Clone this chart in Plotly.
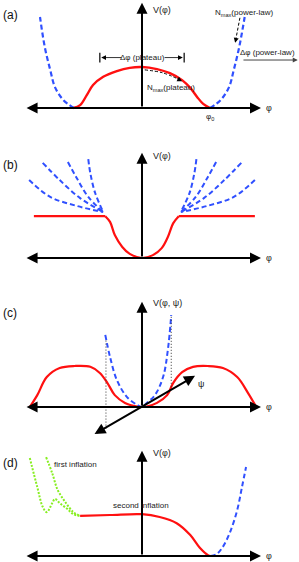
import plotly.graph_objects as go

# ---------------- data (phi, V) ----------------
# panel (a)
a_red_phi = [-1.01, -0.91, -0.81, -0.72, -0.57, -0.37, -0.18, 0.0, 0.22, 0.41, 0.59, 0.71, 0.81, 0.90, 1.0]
a_red_V = [0.0, 0.07, 0.32, 0.56, 0.76, 0.90, 0.98, 1.0, 0.95, 0.85, 0.68, 0.49, 0.27, 0.10, 0.0]
a_blueL_phi = [-1.0, -1.16, -1.28, -1.35, -1.43, -1.50]
a_blueL_V = [0.0, 0.20, 0.51, 0.93, 1.49, 2.22]
a_blueR_phi = [1.0, 1.16, 1.28, 1.35, 1.43, 1.51]
a_blueR_V = [0.0, 0.20, 0.51, 0.93, 1.49, 2.22]

# panel (b)
b_flatL_phi = [-1.59, -0.54]
b_flatL_V = [1.02, 1.02]
b_bowl_phi = [-0.54, -0.47, -0.40, -0.29, -0.18, 0.0, 0.16, 0.29, 0.38, 0.46, 0.54]
b_bowl_V = [1.02, 0.88, 0.56, 0.27, 0.10, 0.0, 0.07, 0.24, 0.51, 0.85, 1.02]
b_flatR_phi = [0.54, 1.66]
b_flatR_V = [1.02, 1.02]
b_fan_phi = [
    [-1.66, -1.35, -0.96, -0.57],
    [-1.46, -1.21, -0.91, -0.57],
    [-1.09, -0.96, -0.79, -0.57],
    [-0.79, -0.76, -0.69, -0.57],
    [1.66, 1.35, 0.96, 0.57],
    [1.46, 1.21, 0.91, 0.57],
    [1.09, 0.96, 0.79, 0.57],
    [0.80, 0.77, 0.70, 0.57],
]
b_fan_V = [
    [1.90, 1.49, 1.27, 1.12],
    [2.32, 1.90, 1.46, 1.12],
    [2.34, 1.95, 1.49, 1.12],
    [2.41, 2.07, 1.59, 1.12],
    [1.90, 1.49, 1.27, 1.12],
    [2.32, 1.90, 1.46, 1.12],
    [2.34, 1.95, 1.49, 1.12],
    [2.41, 2.07, 1.59, 1.12],
]

# panel (c)
c_red_phi = [-1.65, -1.54, -1.40, -1.21, -0.99, -0.76, -0.62, -0.51, -0.40, -0.25, -0.07, 0.0,
             0.07, 0.22, 0.37, 0.46, 0.59, 0.75, 0.97, 1.19, 1.40, 1.56, 1.68]
c_red_V = [0.0, 0.29, 0.73, 0.95, 1.0, 0.98, 0.83, 0.59, 0.29, 0.10, 0.01, 0.0,
           0.01, 0.10, 0.29, 0.59, 0.85, 0.98, 1.0, 0.95, 0.73, 0.34, 0.0]
c_blue_phi = [-0.54, -0.47, -0.37, -0.22, -0.07, 0.0, 0.07, 0.19, 0.31, 0.38, 0.43]
c_blue_V = [1.76, 1.22, 0.66, 0.24, 0.05, 0.0, 0.10, 0.29, 0.73, 1.39, 2.24]
c_dotL_phi = [-0.53, -0.53]
c_dotL_V = [1.62, -0.56]
c_dotR_phi = [0.43, 0.43]
c_dotR_V = [2.20, 0.49]
c_psi_phi = [-0.72, 0.78]
c_psi_V = [-0.68, 0.76]

# panel (d)
d_red_phi = [-0.91, -0.47, 0.0, 0.26, 0.51, 0.71, 0.85, 0.97, 1.01]
d_red_V = [0.98, 1.0, 1.02, 0.95, 0.80, 0.51, 0.20, 0.02, 0.0]
d_blue_phi = [1.01, 1.10, 1.18, 1.29, 1.40, 1.47, 1.53]
d_blue_V = [0.0, 0.05, 0.20, 0.56, 1.12, 1.68, 2.17]
d_greenA_phi = [-1.65, -1.54, -1.46, -1.40, -1.32, -1.28, -1.21, -1.10, -1.01, -0.91]
d_greenA_V = [2.39, 1.68, 1.20, 1.07, 1.29, 1.39, 1.29, 1.15, 1.02, 0.98]
d_greenB_phi = [-1.41, -1.32, -1.24, -1.13, -1.01, -0.91]
d_greenB_V = [2.41, 2.02, 1.61, 1.32, 1.07, 0.98]

# ---------------- layout helpers ----------------
W, H = 299, 562
XPX0, XSCALE, YSCALE = 142.0, 68.0, 41.0
# (top px, bottom px, axis-line px) per panel
panels = [(0, 125, 108), (125, 268, 258), (268, 442, 407), (442, 562, 556)]

RED = "#ff1010"
BLUE = "#3050ff"
GREEN = "#88ee22"
FONT = "Liberation Sans, DejaVu Sans, sans-serif"

fig = go.Figure()
layout = dict(width=W, height=H, margin=dict(l=0, r=0, t=0, b=0),
              paper_bgcolor="white", plot_bgcolor="white", showlegend=False)
xr = [(0 - XPX0) / XSCALE, (W - XPX0) / XSCALE]
for i, (top, bot, ax_px) in enumerate(panels):
    n = "" if i == 0 else str(i + 1)
    layout["xaxis" + n] = dict(domain=[0, 1], range=xr, visible=False, anchor="y" + n)
    layout["yaxis" + n] = dict(domain=[1 - bot / H, 1 - top / H],
                               range=[(ax_px - bot) / YSCALE, (ax_px - top) / YSCALE],
                               visible=False, anchor="x" + n)
fig.update_layout(**layout)


def ref(i):
    n = "" if i == 0 else str(i + 1)
    return "x" + n, "y" + n


def line(i, x, y, color, width=2.2, dash="solid", shape="spline", smoothing=1.0):
    xa, ya = ref(i)
    ln = dict(color=color, width=width, dash=dash, shape=shape)
    if shape == "spline":
        ln["smoothing"] = smoothing
    fig.add_trace(go.Scatter(x=x, y=y, mode="lines", line=ln, xaxis=xa, yaxis=ya,
                             hoverinfo="skip", cliponaxis=False))


annots = []


def arrow(i, x0, y0, x1, y1, both=False, width=2, size=1.0, color="black", head=2):
    xa, ya = ref(i)
    annots.append(dict(x=x1, y=y1, ax=x0, ay=y0, xref=xa, yref=ya, axref=xa, ayref=ya,
                       text="", showarrow=True, arrowhead=head, startarrowhead=head,
                       arrowsize=size, startarrowsize=size,
                       arrowwidth=width, arrowcolor=color,
                       arrowside="end+start" if both else "end", standoff=0, startstandoff=0))


def text(i, x, y, s, size=8, anchor="left", color="#1a1a1a"):
    xa, ya = ref(i)
    annots.append(dict(x=x, y=y, xref=xa, yref=ya, text=s, showarrow=False,
                       xanchor=anchor, yanchor="middle",
                       font=dict(family=FONT, size=size, color=color)))


def pan_label(i, s):
    top, bot, ax_px = panels[i]
    ypx = [15, 165, 313, 463][i]
    text(i, (10 - XPX0) / XSCALE, (ax_px - ypx) / YSCALE, s, size=12, anchor="center",
         color="#111")


# axes for all panels
for i in range(4):
    arrow(i, -1.72, 0, 1.75, 0, both=True, width=2, size=1.1)
    arrow(i, 0, 0, 0, 2.57, width=2, size=1.1)
    text(i, 1.80, 0, "φ", size=9)

# ---- panel (a)
line(0, a_red_phi, a_red_V, RED, 2.4)
line(0, a_blueL_phi, a_blueL_V, BLUE, 2.2, dash="5px,3px")
line(0, a_blueR_phi, a_blueR_V, BLUE, 2.2, dash="5px,3px")
pan_label(0, "(a)")
text(0, 0.13, 2.39, "V(φ)", size=9)
text(0, 1.0, -0.23, "φ<sub>0</sub>", size=8, anchor="center")
text(0, 0.01, 1.23, "Δφ (plateau)", size=8, anchor="center")
line(0, [-0.62, -0.62], [1.11, 1.35], "black", 1.2, shape="linear")
line(0, [0.62, 0.62], [1.11, 1.35], "black", 1.2, shape="linear")
arrow(0, -0.28, 1.23, -0.60, 1.23, width=0.8, size=1.2)
arrow(0, 0.31, 1.23, 0.60, 1.23, width=0.8, size=1.2)
line(0, [0.04, 0.30, 0.54], [0.93, 0.86, 0.70], "black", 1.0, dash="3px,2px")
arrow(0, 0.50, 0.73, 0.59, 0.65, width=1, size=1.0)
text(0, 0.04, 0.49, "N<sub>max</sub>(plateau)", size=8)
text(0, 1.04, 2.32, "N<sub>max</sub>(power-law)", size=8)
line(0, [1.44, 1.38], [2.20, 1.68], "black", 1.0, dash="3px,2px", shape="linear")
arrow(0, 1.385, 1.70, 1.37, 1.59, width=1, size=1.0)
text(0, 2.28, 1.36, "Δφ (power-law)", size=8, anchor="right")
arrow(0, 1.47, 1.17, 2.29, 1.17, width=1, size=1.0, color="#444")

# ---- panel (b)
line(1, b_flatL_phi, b_flatL_V, RED, 2.2, shape="linear")
line(1, b_bowl_phi, b_bowl_V, RED, 2.2)
line(1, b_flatR_phi, b_flatR_V, RED, 2.2, shape="linear")
for fx, fy in zip(b_fan_phi, b_fan_V):
    line(1, fx, fy, BLUE, 2.0, dash="5px,3px")
pan_label(1, "(b)")
text(1, 0.13, 2.49, "V(φ)", size=9)

# ---- panel (c)
line(2, c_red_phi, c_red_V, RED, 2.2)
line(2, c_blue_phi, c_blue_V, BLUE, 2.0, dash="5px,3px")
line(2, c_dotL_phi, c_dotL_V, "#333", 1.0, dash="1px,2px", shape="linear")
line(2, c_dotR_phi, c_dotR_V, "#333", 1.0, dash="1px,2px", shape="linear")
arrow(2, c_psi_phi[0], c_psi_V[0], c_psi_phi[1], c_psi_V[1], both=True, width=2, size=1.1)
pan_label(2, "(c)")
text(2, 0.13, 2.54, "V(φ, ψ)", size=9)
text(2, 0.80, 0.57, "ψ", size=9)

# ---- panel (d)
line(3, d_red_phi, d_red_V, RED, 2.2)
line(3, d_blue_phi, d_blue_V, BLUE, 2.0, dash="5px,3px")
line(3, d_greenA_phi, d_greenA_V, GREEN, 2.0, dash="2px,1.5px")
line(3, d_greenB_phi, d_greenB_V, GREEN, 2.0, dash="2px,1.5px")
pan_label(3, "(d)")
text(3, 0.13, 2.51, "V(φ)", size=9)
text(3, -1.32, 2.24, "first inflation", size=8)
text(3, -0.02, 1.22, "second inflation", size=8, anchor="center")

fig.update_layout(annotations=annots)
fig.write_html("out.html", config={"displayModeBar": False, "staticPlot": True},
               post_script="document.body.style.margin='0';document.body.style.overflow='hidden';")
